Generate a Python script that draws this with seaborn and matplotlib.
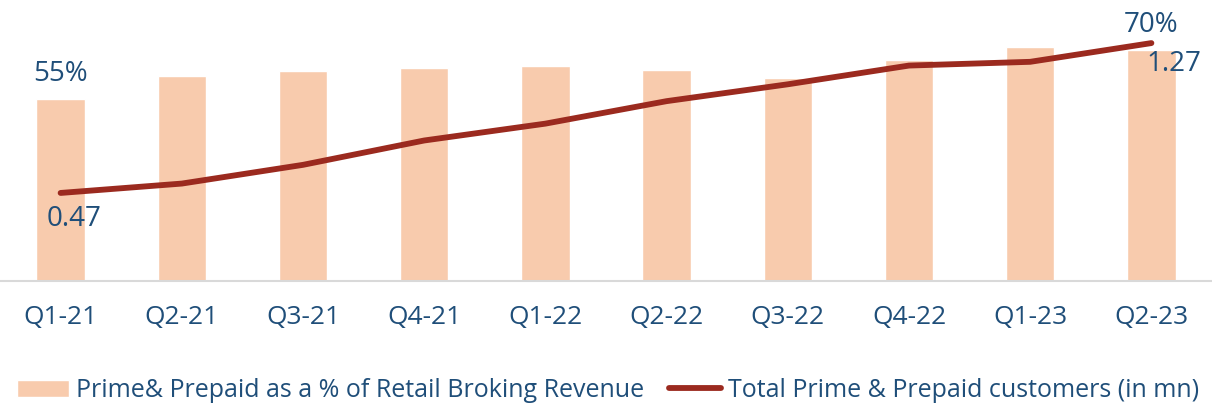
import numpy as np
import pandas as pd
import seaborn as sns
import matplotlib.pyplot as plt

sns.set_theme(style="white")
plt.rcParams['font.family'] = ['Open Sans', 'DejaVu Sans']

quarters = ["Q1-21", "Q2-21", "Q3-21", "Q4-21", "Q1-22",
            "Q2-22", "Q3-22", "Q4-22", "Q1-23", "Q2-23"]
revenue_share = [55, 62, 63.5, 64.4, 65, 63.8, 61.3, 66.8, 70.7, 70]
customers = [0.47, 0.52, 0.62, 0.75, 0.84, 0.96, 1.05, 1.15, 1.17, 1.27]

bar_label = "Prime& Prepaid as a % of Retail Broking Revenue"
line_label = "Total Prime & Prepaid customers (in mn)"

text_col = "#1F4E79"
bar_col = "#F8CBAD"
line_col = "#9B2A1F"

df = pd.DataFrame({"quarter": quarters, "share": revenue_share,
                   "cust": customers, "pos": np.arange(len(quarters))})

fig = plt.figure(figsize=(12.12, 4.09), dpi=100)
ax = fig.add_axes([0, 0.313, 1, 0.687])

sns.barplot(data=df, x="quarter", y="share", color=bar_col, saturation=1,
            width=0.4, ax=ax, label=bar_label)
ax.set_ylim(0, 85)
ax.set_xlim(-0.5, 9.5)
ax.set_xlabel("")
ax.set_ylabel("")
ax.set_yticks([])
ax.tick_params(axis="x", length=0, pad=17, labelsize=19, labelcolor=text_col)
for s in ["top", "left", "right"]:
    ax.spines[s].set_visible(False)
ax.spines["bottom"].set_color("#D9D9D9")
ax.spines["bottom"].set_linewidth(1.5)

ax2 = ax.twinx()
sns.lineplot(data=df, x="pos", y="cust", color=line_col, linewidth=4.2,
             solid_capstyle="round", ax=ax2, label=line_label)
ax2.set_ylim(0, 1.5)
ax2.set_yticks([])
ax2.set_ylabel("")
ax2.set_xlabel("")
for s in ax2.spines.values():
    s.set_visible(False)
ax2.get_legend().remove()

# labels only on first and last points
for i in [0, len(quarters) - 1]:
    ax.annotate(f"{revenue_share[i]:.0f}%", (i, revenue_share[i]),
                xytext=(0, 18), textcoords="offset points",
                ha="center", va="center", fontsize=20, color=text_col)
ax2.annotate(f"{customers[0]:.2f}", (0, customers[0]), xytext=(10, -19),
             textcoords="offset points", ha="center", va="center",
             fontsize=20, color=text_col)
ax2.annotate(f"{customers[-1]:.2f}", (9, customers[-1]), xytext=(16, -15),
             textcoords="offset points", ha="center", va="center",
             fontsize=20, color=text_col)

h1, l1 = ax.get_legend_handles_labels()
h2, l2 = ax2.get_legend_handles_labels()
if ax.get_legend():
    ax.get_legend().remove()
fig.legend(h1 + h2, l1 + l2, loc="center left", bbox_to_anchor=(0.014, 0.045),
           ncol=2, frameon=False, fontsize=18, labelcolor=text_col,
           handlelength=2.1, handleheight=0.7, handletextpad=0.25,
           columnspacing=1.0, borderpad=0, borderaxespad=0)

plt.savefig("out.png", dpi=100)
